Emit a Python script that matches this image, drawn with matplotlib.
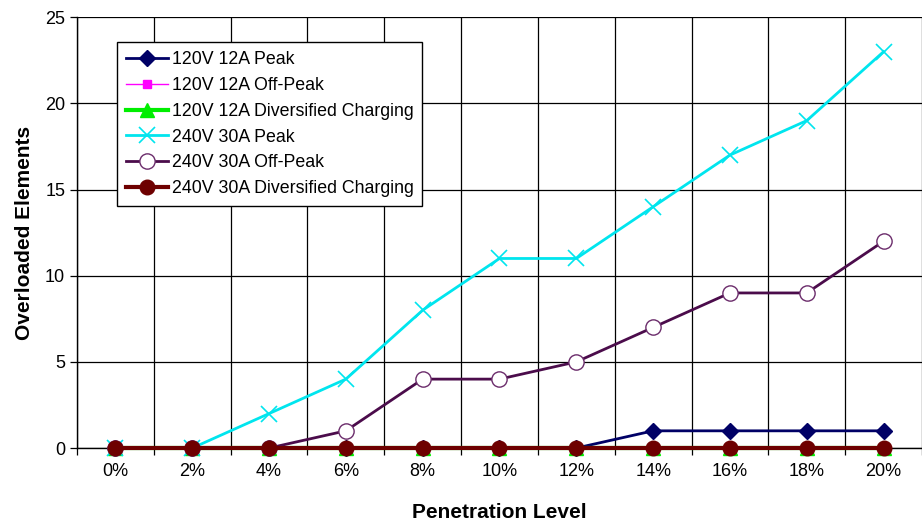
import matplotlib.pyplot as plt
import numpy as np

plt.rcParams['font.family'] = ['Liberation Sans', 'DejaVu Sans']

levels = ['0%', '2%', '4%', '6%', '8%', '10%', '12%', '14%', '16%', '18%', '20%']
peak_120 = [0, 0, 0, 0, 0, 0, 0, 1, 1, 1, 1]
offpeak_120 = [0, 0, 0, 0, 0, 0, 0, 0, 0, 0, 0]
divers_120 = [0, 0, 0, 0, 0, 0, 0, 0, 0, 0, 0]
peak_240 = [0, 0, 2, 4, 8, 11, 11, 14, 17, 19, 23]
offpeak_240 = [0, 0, 0, 1, 4, 4, 5, 7, 9, 9, 12]
divers_240 = [0, 0, 0, 0, 0, 0, 0, 0, 0, 0, 0]

x = np.arange(len(levels))

fig = plt.figure(figsize=(9.22, 5.21), dpi=100)
ax = fig.add_axes([0.0835, 0.140, 0.9165, 0.827])

ax.plot(x, peak_120, '-D', color='#000066', lw=2, ms=8, label='120V 12A Peak', zorder=3, clip_on=False)
ax.plot(x, offpeak_120, '-s', color='#ff00ff', lw=1, ms=6, label='120V 12A Off-Peak', zorder=3, clip_on=False)
ax.plot(x, divers_120, '-^', color='#00ee00', lw=3, ms=10, label='120V 12A Diversified Charging',
        zorder=3, clip_on=False)
ax.plot(x, peak_240, '-x', color='#00e5ee', lw=2, ms=11, mew=1.2, label='240V 30A Peak', zorder=3, clip_on=False)
ax.plot(x, offpeak_240, '-o', color='#4b0c4b', lw=2, ms=11, mfc='white', mec='#6b2c6b',
        mew=1, label='240V 30A Off-Peak', zorder=3, clip_on=False)
ax.plot(x, divers_240, '-o', color='#6e0000', lw=3, ms=10.5, label='240V 30A Diversified Charging',
        zorder=4, clip_on=False)

ax.set_xlim(-0.5, 10.43)
ax.set_ylim(0, 25)
ax.set_yticks([0, 5, 10, 15, 20, 25])
ax.set_xticks(x)
ax.set_xticklabels(levels)
ax.set_xticks(np.arange(-0.5, 11, 1), minor=True)
ax.grid(True, which='major', axis='y', color='black', lw=0.9)
ax.grid(True, which='minor', axis='x', color='black', lw=0.9)
ax.tick_params(axis='x', which='major', length=0, labelsize=13, pad=11)
ax.tick_params(axis='x', which='minor', length=5, width=0.9, direction='out')
ax.tick_params(axis='y', length=5, width=0.9, labelsize=13)

for s in ['top', 'right']:
    ax.spines[s].set_visible(False)
ax.spines['left'].set_linewidth(1)
ax.spines['bottom'].set_linewidth(1)

ax.set_xlabel('Penetration Level', fontsize=15, fontweight='bold', labelpad=16)
ax.set_ylabel('Overloaded Elements', fontsize=15, fontweight='bold', labelpad=8)

leg = ax.legend(loc='upper left', bbox_to_anchor=(0.047, 0.942), borderaxespad=0, fontsize=12.75,
                frameon=True, fancybox=False, edgecolor='black', framealpha=1,
                handlelength=2.4, labelspacing=0.5, borderpad=0.5, handletextpad=0.2)
leg.get_frame().set_linewidth(1)

fig.savefig('out.png', dpi=100)
